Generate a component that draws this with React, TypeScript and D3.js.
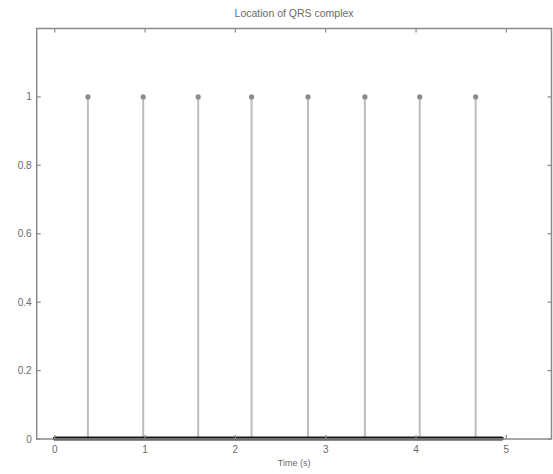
import React, { useEffect, useRef } from "react";
import * as d3 from "d3";

// QRS peak locations (s)
const peakTimes = [0.367, 0.979, 1.588, 2.179, 2.804, 3.434, 4.041, 4.66];
const peakValues = [1, 1, 1, 1, 1, 1, 1, 1];
const signalSpan = [0, 4.95];
const xTicks = [0, 1, 2, 3, 4, 5];
const yTicks = [0, 0.2, 0.4, 0.6, 0.8, 1];
const title = "Location of QRS complex";
const xLabel = "Time (s)";

const App = () => {
  const svgRef = useRef<SVGSVGElement>(null);

  useEffect(() => {
    const width = 553,
      height = 474;
    const margin = { top: 28.5, right: 1.5, bottom: 35, left: 36.7 };

    const root = d3.select(svgRef.current);
    root.selectAll("*").remove();
    root.attr("width", width).attr("height", height);

    const x = d3
      .scaleLinear()
      .domain([-0.2, 5.5])
      .range([margin.left, width - margin.right]);
    const y = d3
      .scaleLinear()
      .domain([0, 1.2])
      .range([height - margin.bottom, margin.top]);

    const axisColor = "#8a8a8a";
    const textColor = "#6a6a6a";
    const font = "Liberation Sans, Arial, sans-serif";

    // stems
    root
      .append("g")
      .selectAll("line")
      .data(peakTimes)
      .join("line")
      .attr("x1", (d) => x(d))
      .attr("x2", (d) => x(d))
      .attr("y1", y(0))
      .attr("y2", (d, i) => y(peakValues[i]))
      .attr("stroke", "#bdbdbd")
      .attr("stroke-width", 2);

    root
      .append("g")
      .selectAll("circle")
      .data(peakTimes)
      .join("circle")
      .attr("cx", (d) => x(d))
      .attr("cy", (d, i) => y(peakValues[i]))
      .attr("r", 2.6)
      .attr("fill", "#8c8c8c");

    // zero-valued stems merge into a thick baseline
    root
      .append("line")
      .attr("x1", x(signalSpan[0]))
      .attr("x2", x(signalSpan[1]))
      .attr("y1", y(0) - 0.5)
      .attr("y2", y(0) - 0.5)
      .attr("stroke", "#1a1a1a")
      .attr("stroke-width", 4)
      .attr("stroke-linecap", "round");

    // axes box
    root
      .append("rect")
      .attr("x", x(-0.2))
      .attr("y", y(1.2))
      .attr("width", x(5.5) - x(-0.2))
      .attr("height", y(0) - y(1.2))
      .attr("fill", "none")
      .attr("stroke", axisColor)
      .attr("stroke-width", 1.5);

    const ticks = root.append("g").attr("stroke", axisColor).attr("stroke-width", 1.2);
    xTicks.forEach((t) => {
      ticks.append("line").attr("x1", x(t)).attr("x2", x(t)).attr("y1", y(0)).attr("y2", y(0) - 4);
      ticks.append("line").attr("x1", x(t)).attr("x2", x(t)).attr("y1", y(1.2)).attr("y2", y(1.2) + 4);
    });
    yTicks.forEach((t) => {
      ticks.append("line").attr("x1", x(-0.2)).attr("x2", x(-0.2) + 4).attr("y1", y(t)).attr("y2", y(t));
      ticks.append("line").attr("x1", x(5.5)).attr("x2", x(5.5) - 4).attr("y1", y(t)).attr("y2", y(t));
    });

    const labels = root
      .append("g")
      .attr("font-family", font)
      .attr("font-size", 10)
      .attr("fill", textColor);

    labels
      .selectAll("text.xt")
      .data(xTicks)
      .join("text")
      .attr("class", "xt")
      .attr("x", (d) => x(d))
      .attr("y", y(0) + 14)
      .attr("text-anchor", "middle")
      .text((d) => d3.format("~g")(d));

    labels
      .selectAll("text.yt")
      .data(yTicks)
      .join("text")
      .attr("class", "yt")
      .attr("x", x(-0.2) - 5)
      .attr("y", (d) => y(d) + 3.5)
      .attr("text-anchor", "end")
      .text((d) => d3.format("~g")(d));

    labels
      .append("text")
      .attr("x", x(2.65))
      .attr("y", height - 8)
      .attr("text-anchor", "middle")
      .attr("font-size", 9)
      .text(xLabel);

    labels
      .append("text")
      .attr("x", x(2.65))
      .attr("y", 17)
      .attr("text-anchor", "middle")
      .attr("font-size", 10.5)
      .text(title);
  }, []);

  return (
    <svg
      ref={svgRef}
      style={{ position: "fixed", left: 0, top: 0, background: "#fff" }}
    ></svg>
  );
};

export default App;
